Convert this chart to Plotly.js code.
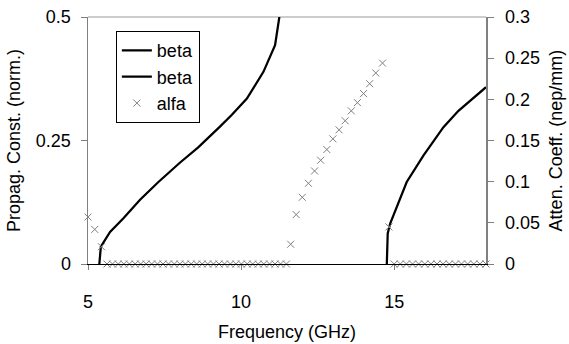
<!DOCTYPE html>
<html>
<head>
<meta charset="utf-8">
<script src="https://cdn.plot.ly/plotly-3.0.1.min.js"></script>
<style>html,body{margin:0;padding:0;background:#fff;}#chart{width:569px;height:344px;}</style>
</head>
<body>
<div id="chart"></div>
<script>
// Propagation constant (beta), normalized - first mode
const freqBeta1 = [5.37, 5.42, 5.72, 6.15, 6.70, 7.30, 8.00, 8.60, 9.31, 9.70, 10.19, 10.73, 11.11, 11.25];
const beta1     = [0.000, 0.035, 0.065, 0.092, 0.130, 0.166, 0.205, 0.236, 0.278, 0.302, 0.335, 0.389, 0.443, 0.500];
// second mode
const freqBeta2 = [14.76, 14.79, 14.87, 15.03, 15.41, 15.96, 16.61, 17.10, 17.48, 18.00];
const beta2     = [0.000, 0.062, 0.082, 0.106, 0.166, 0.220, 0.277, 0.310, 0.331, 0.358];
// Attenuation coefficient (alfa), nep/mm
const freqAlfa = [5.00, 5.22, 5.44,
  5.62, 5.80, 5.99, 6.17, 6.35, 6.54, 6.72, 6.90, 7.08, 7.27, 7.45, 7.63, 7.82, 8.00, 8.18, 8.37, 8.55,
  8.73, 8.91, 9.10, 9.28, 9.46, 9.65, 9.83, 10.01, 10.20, 10.38, 10.56, 10.74, 10.93, 11.11, 11.29, 11.48,
  11.62, 11.80, 12.00, 12.20, 12.40, 12.60, 12.80, 13.00, 13.20, 13.40, 13.60, 13.80, 14.00, 14.20, 14.40, 14.62,
  14.83,
  15.00, 15.20, 15.40, 15.60, 15.80, 16.00, 16.20, 16.40, 16.60, 16.80, 17.00, 17.20, 17.40, 17.60, 17.80, 18.00];
const alfa = [0.057, 0.042, 0.021,
  0, 0, 0, 0, 0, 0, 0, 0, 0, 0, 0, 0, 0, 0, 0, 0, 0,
  0, 0, 0, 0, 0, 0, 0, 0, 0, 0, 0, 0, 0, 0, 0, 0,
  0.024, 0.060, 0.081, 0.098, 0.113, 0.126, 0.139, 0.152, 0.163, 0.174, 0.186, 0.196, 0.207, 0.219, 0.232, 0.244,
  0.045,
  0, 0, 0, 0, 0, 0, 0, 0, 0, 0, 0, 0, 0, 0, 0, 0];
const xTicks = [5, 10, 15];
const yTicks = [0, 0.25, 0.5];
const yTickText = ['0', '0.25', '0.5'];
const y2Ticks = [0, 0.05, 0.1, 0.15, 0.2, 0.25, 0.3];
const y2TickText = ['0', '0.05', '0.1', '0.15', '0.2', '0.25', '0.3'];

const FONT = 'Liberation Sans, Arial, sans-serif';
const traces = [
  {x: freqBeta1, y: beta1, type: 'scatter', mode: 'lines', name: 'beta',
   line: {color: '#000', width: 2.25}, yaxis: 'y'},
  {x: freqBeta2, y: beta2, type: 'scatter', mode: 'lines', name: 'beta',
   line: {color: '#000', width: 2.25}, yaxis: 'y'},
  {x: freqAlfa, y: alfa, type: 'scatter', mode: 'markers', name: 'alfa', yaxis: 'y2',
   marker: {symbol: 'x-thin-open', size: 7, color: '#808080', line: {color: '#808080', width: 1}}, cliponaxis: false}
];
const layout = {
  width: 569, height: 344,
  margin: {l: 88, r: 83, t: 17, b: 80, pad: 0},
  paper_bgcolor: '#fff', plot_bgcolor: '#fff',
  font: {family: FONT, size: 18, color: '#000'},
  showlegend: true,
  legend: {x: 0.07, y: 0.943, xanchor: 'left', yanchor: 'top', bgcolor: '#fff',
           bordercolor: '#000', borderwidth: 1, font: {family: FONT, size: 18, color: '#000'},
           tracegroupgap: 0, itemwidth: 30},
  xaxis: {range: [5, 18], tickvals: xTicks, ticktext: xTicks.map(String),
          showline: true, linecolor: '#000', linewidth: 1, ticks: 'outside', ticklen: 5,
          tickcolor: '#808080', showgrid: false, zeroline: false, ticklabelstandoff: 16,
          tickfont: {size: 18}, title: {text: 'Frequency (GHz)', font: {size: 18}, standoff: 14}},
  yaxis: {range: [0, 0.5], tickvals: yTicks, ticktext: yTickText,
          showline: true, linecolor: '#808080', linewidth: 1.5, ticks: 'outside', ticklen: 6,
          tickcolor: '#808080', showgrid: false, zeroline: false, ticklabelstandoff: 6,
          tickfont: {size: 18}, title: {text: 'Propag. Const. (norm.)', font: {size: 18}, standoff: 10}},
  yaxis2: {range: [0, 0.3], tickvals: y2Ticks, ticktext: y2TickText, overlaying: 'y', side: 'right', anchor: 'x',
           showline: true, linecolor: '#808080', linewidth: 1.5, ticks: 'outside', ticklen: 6,
           tickcolor: '#808080', showgrid: false, zeroline: false, ticklabelstandoff: 8,
           tickfont: {size: 18}, title: {text: 'Atten. Coeff. (nep/mm)', font: {size: 18}, standoff: 10}},
  yaxis3: {range: [0, 0.3], tickvals: y2Ticks, overlaying: 'y', side: 'right', anchor: 'x',
           showline: false, ticks: 'inside', ticklen: 6, tickcolor: '#808080', showticklabels: false,
           showgrid: false, zeroline: false},
  shapes: [{type: 'line', xref: 'paper', yref: 'paper', x0: 0, x1: 1, y0: 1, y1: 1,
            line: {color: '#9a9a9a', width: 1}, layer: 'below'}]
};
Plotly.newPlot('chart', traces, layout, {displayModeBar: false, staticPlot: true});
</script>
</body>
</html>
